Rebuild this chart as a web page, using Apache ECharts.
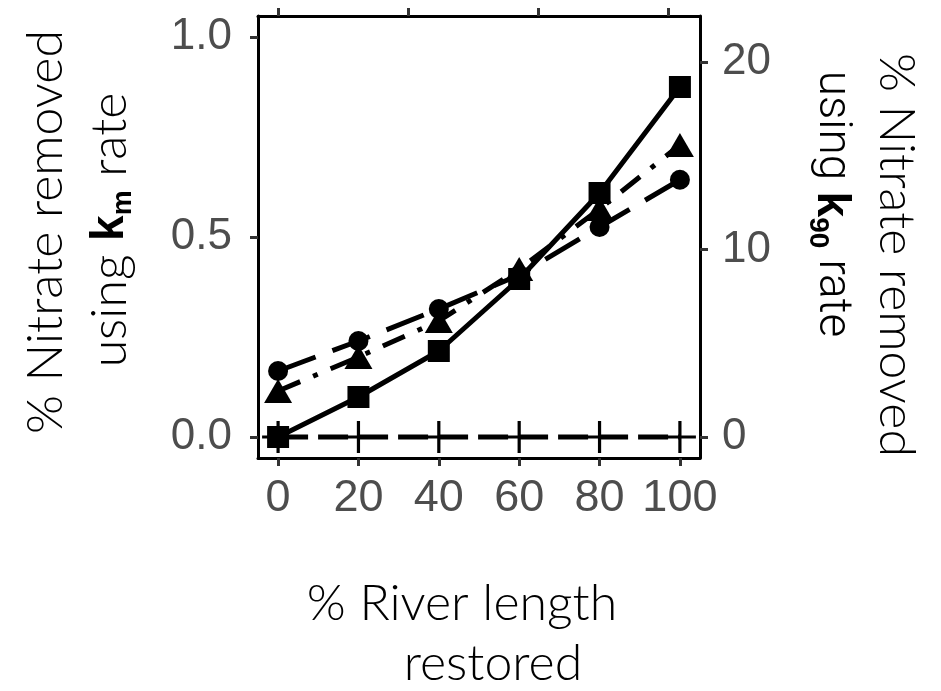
<!DOCTYPE html>
<html>
<head>
<meta charset="utf-8">
<script src="https://cdn.jsdelivr.net/npm/echarts@6/dist/echarts.min.js"></script>
<style>
  html, body { margin: 0; padding: 0; background: #fff; }
  #chart { width: 941px; height: 691px; }
</style>
</head>
<body>
<div id="chart"></div>
<script>
// dados
const restored = [0, 20, 40, 60, 80, 100];
const quadrado = [0, 0.1, 0.215, 0.395, 0.61, 0.875];
const triangulo = [0.115, 0.2, 0.29, 0.42, 0.57, 0.73];
const circulo = [0.165, 0.24, 0.32, 0.405, 0.525, 0.643];
const cruz = [0, 0, 0, 0, 0, 0];
const ticksX = [0, 20, 40, 60, 80, 100];
const ticksTopo = [0, 32.35, 64.7, 97.05];
const ticksEsq = [0, 0.5, 1.0];
const ticksDir = [0, 10, 20];

const pares = (ys) => restored.map((x, i) => [x, ys[i]]);

const plusPath = 'path://M13.5,0h3v13.5h13.5v3h-13.5v13.5h-3v-13.5h-13.5v-3h13.5z';
const fonteTitulo = '300 50px Lato';
const fonteNum = 'Liberation Sans';

const chart = echarts.init(document.getElementById('chart'));

const eixoLinha = { show: true, onZero: false, lineStyle: { color: '#000', width: 3 } };
const tick = (vals) => ({ show: true, inside: false, length: 8, customValues: vals, lineStyle: { color: '#333', width: 3 } });

const option = {
    animation: false,
    grid: { left: 258, right: 241, top: 16, bottom: 233 },
    xAxis: [
        {
            type: 'value', position: 'bottom', min: -5, max: 105,
            axisLine: eixoLinha, axisTick: tick(ticksX), splitLine: { show: false },
            axisLabel: { customValues: ticksX, margin: 18, color: '#4d4d4d', fontSize: 45, fontFamily: fonteNum }
        },
        {
            type: 'value', position: 'top', min: -5, max: 105,
            axisLine: eixoLinha, axisTick: tick(ticksTopo), splitLine: { show: false },
            axisLabel: { show: false }
        }
    ],
    yAxis: [
        {
            type: 'value', position: 'left', min: -0.0525, max: 1.0525,
            axisLine: eixoLinha, axisTick: tick(ticksEsq), splitLine: { show: false },
            axisLabel: { customValues: ticksEsq, margin: 26, color: '#4d4d4d', fontSize: 44, fontFamily: fonteNum,
                formatter: (v) => v.toFixed(1) }
        },
        {
            type: 'value', position: 'right', min: -1.12, max: 22.45,
            axisLine: eixoLinha, axisTick: tick(ticksDir), splitLine: { show: false },
            axisLabel: { customValues: ticksDir, margin: 22, color: '#4d4d4d', fontSize: 44, fontFamily: fonteNum }
        }
    ],
    series: [
        {
            name: 'zero', type: 'line', data: pares(cruz),
            symbol: plusPath, symbolSize: 32, itemStyle: { color: '#000' },
            lineStyle: { color: '#000', width: 5, type: [30, 10] }
        },
        {
            name: 'circulo', type: 'line', data: pares(circulo),
            symbol: 'circle', symbolSize: 20, itemStyle: { color: '#000' },
            lineStyle: { color: '#000', width: 5, type: [40, 18] }
        },
        {
            name: 'triangulo', type: 'line', data: pares(triangulo),
            symbol: 'triangle', symbolSize: [28, 24], itemStyle: { color: '#000' },
            lineStyle: { color: '#000', width: 5, type: [24, 14, 5, 14] }
        },
        {
            name: 'quadrado', type: 'line', data: pares(quadrado),
            symbol: 'rect', symbolSize: 22, itemStyle: { color: '#000' },
            lineStyle: { color: '#000', width: 5, type: 'solid' }
        }
    ],
    graphic: [
        {
            type: 'text', x: 46, y: 232, rotation: Math.PI / 2,
            style: { text: '% Nitrate removed', font: fonteTitulo, fill: '#000', align: 'center', verticalAlign: 'middle' }
        },
        {
            type: 'text', x: 110, y: 230, rotation: Math.PI / 2,
            style: {
                text: '{n|using }{k|k}{s|m}{n| rate}', align: 'center', verticalAlign: 'middle',
                rich: {
                    n: { font: fonteTitulo, fill: '#000', lineHeight: 56 },
                    k: { font: 'bold 46px Liberation Sans', fill: '#000', lineHeight: 56 },
                    s: { font: 'bold 28px Liberation Sans', fill: '#000', lineHeight: 28, padding: [26, 0, 0, 0] }
                }
            }
        },
        {
            type: 'text', x: 896, y: 255, rotation: -Math.PI / 2,
            style: { text: '% Nitrate removed', font: fonteTitulo, fill: '#000', align: 'center', verticalAlign: 'middle' }
        },
        {
            type: 'text', x: 831, y: 204, rotation: -Math.PI / 2,
            style: {
                text: '{n|using }{k|k}{s|90}{n| rate}', align: 'center', verticalAlign: 'middle',
                rich: {
                    n: { font: '300 46px Roboto', fill: '#000', lineHeight: 56 },
                    k: { font: 'bold 46px "Liberation Sans"', fill: '#000', lineHeight: 56 },
                    s: { font: 'bold 28px "Liberation Sans"', fill: '#000', lineHeight: 28, padding: [26, 0, 0, 0] }
                }
            }
        },
        {
            type: 'text', x: 462, y: 604,
            style: { text: '% River length', font: fonteTitulo, fill: '#000', align: 'center', verticalAlign: 'middle' }
        },
        {
            type: 'text', x: 493, y: 664,
            style: { text: 'restored', font: fonteTitulo, fill: '#000', align: 'center', verticalAlign: 'middle' }
        }
    ]
};

chart.setOption(option);
</script>
</body>
</html>
